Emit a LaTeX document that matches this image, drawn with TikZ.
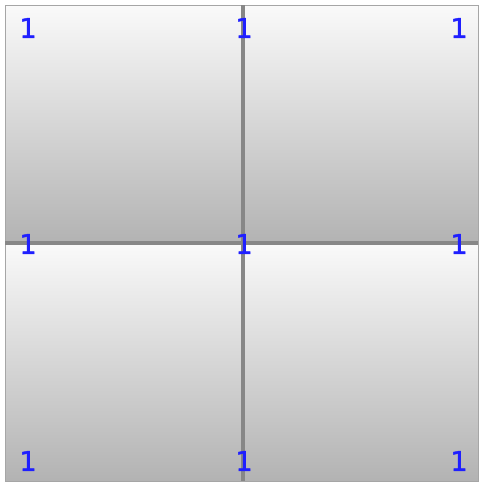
\documentclass[tikz,border=0pt]{standalone}
\usepackage{fontspec}
\setsansfont{DejaVu Sans}
\newfontfamily\numfont{DejaVu Sans}[FakeBold=1.3]
\usetikzlibrary{positioning}

\begin{document}
\begin{tikzpicture}[
    x=1pt, y=-1pt,
    % Styles
    panel/.style={
        inner sep=0pt, outer sep=0pt, anchor=north west,
        minimum width=#1, minimum height=238pt,
        top color=white!98!black, bottom color=black!30,
    },
    panel/.default={238pt},
    divider/.style={draw=black!47, line width=3.2pt},
    frame/.style={draw=black!35, line width=0.9pt},
    num/.style={font=\numfont\fontsize{27}{27}\selectfont, text=blue!88!white, inner sep=0pt},
]
\useasboundingbox (0,0) rectangle (480,483);

% ================================================================
% PANELS
% ================================================================
\node[panel=238pt] (tl) at (5, 5) {};
\node[panel=235pt] (tr) at (243, 5) {};
\node[panel=238pt, minimum height=238pt] (bl) at (5, 243) {};
\node[panel=235pt, minimum height=238pt] (br) at (243, 243) {};

% outer frame
\draw[frame] (tl.north west) rectangle (br.south east);

% ================================================================
% DIVIDERS
% ================================================================
\draw[divider] (tl.north east) -- (bl.south east);
\draw[divider] (tl.south west) -- (tr.south east);

% ================================================================
% LABELS
% ================================================================
\node[num] (n1) at (28, 28) {1};
\node[num] (n2) at (244, 28) {1};
\node[num] (n3) at (459, 28) {1};
\node[num] (n4) at (28, 244) {1};
\node[num] (n5) at (244, 244) {1};
\node[num] (n6) at (459, 244) {1};
\node[num] (n7) at (28, 461) {1};
\node[num] (n8) at (244, 461) {1};
\node[num] (n9) at (459, 461) {1};

\end{tikzpicture}
\end{document}
